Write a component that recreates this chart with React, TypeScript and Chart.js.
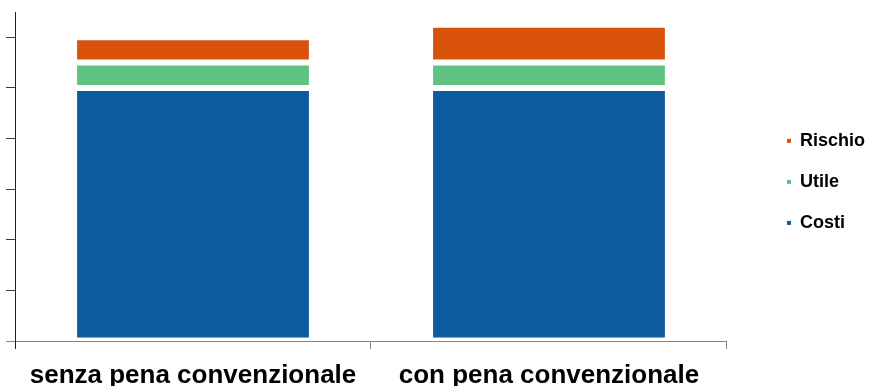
import { useEffect, useRef } from "react";
import { Chart, registerables } from "chart.js";

Chart.register(...registerables);

// Stacked composition of the price, with and without a contractual penalty
const categories = ["senza pena convenzionale", "con pena convenzionale"];
const seriesNames = ["Costi", "Utile", "Rischio"];
const costi = [5, 5];
const utile = [0.5, 0.5];
const rischio = [0.5, 0.75];
const yTickValues = [0, 1, 2, 3, 4, 5, 6];
const Y_MAX = 6.5;

const COLORS = ["#0C5A9F", "#5FC283", "#D9520B"];
const FONT = "'Liberation Sans', Arial, Helvetica, sans-serif";
const AXIS_DARK = "#1f1f1f";
const AXIS_GREY = "#858585";

export default function App() {
  const canvasRef = useRef<HTMLCanvasElement | null>(null);

  useEffect(() => {
    const canvas = canvasRef.current;
    if (!canvas) return;
    const values = [costi, utile, rischio];

    const chart = new Chart(canvas, {
      type: "bar",
      data: {
        labels: categories,
        datasets: seriesNames.map((name, i) => ({
          label: name,
          data: values[i],
          backgroundColor: COLORS[i],
          borderColor: "#ffffff",
          borderWidth: 3,
          borderSkipped: false,
          barPercentage: 0.668,
          categoryPercentage: 1,
        })),
      },
      options: {
        responsive: false,
        animation: false,
        layout: { padding: { top: 12, right: -5, left: 0, bottom: 0 } },
        plugins: {
          tooltip: { enabled: false },
          legend: {
            position: "right",
            fullSize: false,
            reverse: true,
            // blank title only nudges the item column down a little
            title: { display: true, text: " ", padding: 0, font: { size: 9 } },
            labels: {
              boxWidth: 4,
              boxHeight: 4,
              padding: 23,
              color: "#000000",
              font: { family: FONT, size: 18, weight: "bold" },
              generateLabels: (c: any) =>
                c.data.datasets.map((ds: any, i: number) => ({
                  text: ds.label,
                  fillStyle: ds.backgroundColor,
                  strokeStyle: "rgba(0,0,0,0)",
                  lineWidth: 0,
                  hidden: false,
                  datasetIndex: i,
                  fontColor: "#000000",
                })),
            },
          },
        },
        scales: {
          x: {
            stacked: true,
            grid: {
              drawOnChartArea: false,
              drawTicks: true,
              tickLength: 8,
              color: (ctx: any) => (ctx.index === 0 ? AXIS_DARK : AXIS_GREY),
              offset: true,
            },
            border: { color: AXIS_GREY, width: 1 },
            ticks: {
              color: "#000000",
              font: { family: FONT, size: 26, weight: "bold" },
              padding: 11,
              maxRotation: 0,
              autoSkip: false,
            },
            afterFit: (s: any) => {
              s.height = 45;
            },
          },
          y: {
            stacked: true,
            min: 0,
            max: Y_MAX,
            grid: {
              drawOnChartArea: false,
              drawTicks: true,
              tickLength: 9,
              color: (ctx: any) => (ctx.index === 0 ? AXIS_GREY : "#3a3a3a"),
            },
            border: { color: AXIS_DARK, width: 1 },
            ticks: { display: false },
            afterBuildTicks: (s: any) => {
              s.ticks = yTickValues.map((v) => ({ value: v }));
            },
            afterFit: (s: any) => {
              s.width = 15;
            },
          },
          spacer: {
            type: "linear",
            position: "right",
            grid: { display: false },
            border: { display: false },
            ticks: { display: false },
            afterFit: (s: any) => {
              s.width = 37;
            },
          },
        },
      } as any,
    });

    return () => chart.destroy();
  }, []);

  return (
    <div style={{ position: "absolute", left: 0, top: 0, width: 870, height: 386, background: "#ffffff" }}>
      <canvas ref={canvasRef} width={870} height={386} />
    </div>
  );
}
